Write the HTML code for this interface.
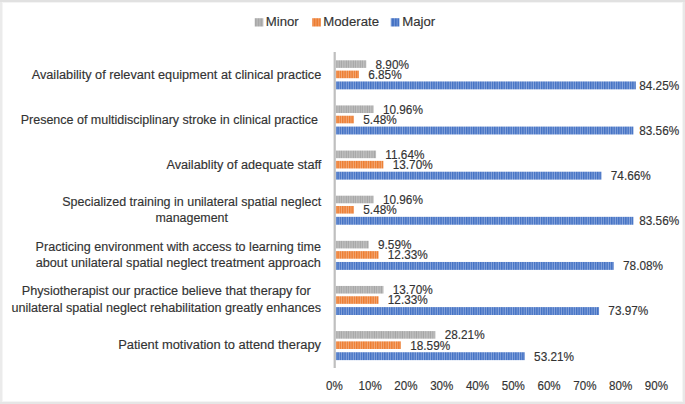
<!DOCTYPE html><html><head><meta charset="utf-8"><style>html,body{margin:0;padding:0;background:#fff;}svg{display:block;}text{font-family:"Liberation Sans",sans-serif;fill:#333333;stroke:#333333;stroke-width:0.15px;}</style></head><body>
<svg width="685" height="404" viewBox="0 0 685 404">
<defs>
<pattern id="pg" patternUnits="userSpaceOnUse" width="2.34" height="10" x="0.4"><rect width="2.34" height="10" fill="#bfbfbf"/><rect x="1.4" width="0.9" height="10" fill="#a3a3a3"/></pattern>
<pattern id="po" patternUnits="userSpaceOnUse" width="2.34" height="10" x="0.4"><rect width="2.34" height="10" fill="#ed7d31"/><rect x="1.4" width="0.9" height="10" fill="#f4ae80"/></pattern>
<pattern id="pb" patternUnits="userSpaceOnUse" width="2.34" height="10" x="0.4"><rect width="2.34" height="10" fill="#4472c4"/><rect x="1.4" width="0.9" height="10" fill="#8eaadf"/></pattern>
<pattern id="lg" patternUnits="userSpaceOnUse" width="2.8" height="10"><rect width="2.8" height="10" fill="#a8a8a8"/><rect x="2" width="0.8" height="10" fill="#c4c4c4"/></pattern>
<pattern id="lo" patternUnits="userSpaceOnUse" width="2.8" height="10"><rect width="2.8" height="10" fill="#ed7d31"/><rect x="2" width="0.8" height="10" fill="#f3a673"/></pattern>
<pattern id="lb" patternUnits="userSpaceOnUse" width="2.8" height="10"><rect width="2.8" height="10" fill="#4472c4"/><rect x="2" width="0.8" height="10" fill="#7f9fd9"/></pattern>
</defs>
<rect x="0" y="0" width="685" height="404" fill="#ffffff"/>
<rect x="2" y="2" width="681" height="1" fill="#f4f4f4"/>
<rect x="2" y="401" width="681" height="1" fill="#f5f5f5"/>
<rect x="2" y="2" width="1" height="400" fill="#f5f5f5"/>
<rect x="682" y="2" width="1" height="400" fill="#f5f5f5"/>
<rect x="0" y="0" width="2" height="404" fill="#ebebeb"/>
<rect x="683" y="0" width="2" height="404" fill="#e8e8e8"/>
<rect x="0" y="0" width="685" height="2" fill="#e1e1e1"/>
<rect x="0" y="402" width="685" height="2" fill="#e6e6e6"/>
<rect x="254.7" y="18.2" width="8.6" height="8.3" fill="url(#lg)"/>
<text x="265.80" y="25.8" font-size="13.2" transform="translate(0 25.8) scale(1 0.93) translate(0 -25.8)">Minor</text>
<rect x="312.2" y="18.2" width="8.6" height="8.3" fill="url(#lo)"/>
<text x="323.30" y="25.8" font-size="13.2" transform="translate(0 25.8) scale(1 0.93) translate(0 -25.8)">Moderate</text>
<rect x="390.8" y="18.2" width="8.6" height="8.3" fill="url(#lb)"/>
<text x="402.20" y="25.8" font-size="13.2" transform="translate(0 25.8) scale(1 0.93) translate(0 -25.8)">Major</text>
<rect x="335.80" y="60.30" width="30.44" height="7.6" fill="url(#pg)"/>
<text x="375.54" y="68.55" font-size="11.8" transform="translate(0 68.55) scale(1 1.08) translate(0 -68.55)">8.90%</text>
<rect x="335.80" y="70.60" width="23.11" height="7.6" fill="url(#po)"/>
<text x="368.21" y="78.85" font-size="11.8" transform="translate(0 78.85) scale(1 1.08) translate(0 -78.85)">6.85%</text>
<rect x="335.80" y="81.45" width="300.05" height="7.9" fill="url(#pb)"/>
<text x="639.20" y="89.85" font-size="11.8" transform="translate(0 89.85) scale(1 1.08) translate(0 -89.85)">84.25%</text>
<rect x="335.80" y="105.43" width="37.81" height="7.6" fill="url(#pg)"/>
<text x="382.91" y="113.68" font-size="11.8" transform="translate(0 113.68) scale(1 1.08) translate(0 -113.68)">10.96%</text>
<rect x="335.80" y="115.73" width="18.21" height="7.6" fill="url(#po)"/>
<text x="363.31" y="123.98" font-size="11.8" transform="translate(0 123.98) scale(1 1.08) translate(0 -123.98)">5.48%</text>
<rect x="335.80" y="126.58" width="297.58" height="7.9" fill="url(#pb)"/>
<text x="639.20" y="134.98" font-size="11.8" transform="translate(0 134.98) scale(1 1.08) translate(0 -134.98)">83.56%</text>
<rect x="335.80" y="150.56" width="40.25" height="7.6" fill="url(#pg)"/>
<text x="385.35" y="158.81" font-size="11.8" transform="translate(0 158.81) scale(1 1.08) translate(0 -158.81)">11.64%</text>
<rect x="335.80" y="160.86" width="47.62" height="7.6" fill="url(#po)"/>
<text x="392.72" y="169.11" font-size="11.8" transform="translate(0 169.11) scale(1 1.08) translate(0 -169.11)">13.70%</text>
<rect x="335.80" y="171.71" width="265.73" height="7.9" fill="url(#pb)"/>
<text x="610.83" y="180.11" font-size="11.8" transform="translate(0 180.11) scale(1 1.08) translate(0 -180.11)">74.66%</text>
<rect x="335.80" y="195.69" width="37.81" height="7.6" fill="url(#pg)"/>
<text x="382.91" y="203.94" font-size="11.8" transform="translate(0 203.94) scale(1 1.08) translate(0 -203.94)">10.96%</text>
<rect x="335.80" y="205.99" width="18.21" height="7.6" fill="url(#po)"/>
<text x="363.31" y="214.24" font-size="11.8" transform="translate(0 214.24) scale(1 1.08) translate(0 -214.24)">5.48%</text>
<rect x="335.80" y="216.84" width="297.58" height="7.9" fill="url(#pb)"/>
<text x="639.20" y="225.24" font-size="11.8" transform="translate(0 225.24) scale(1 1.08) translate(0 -225.24)">83.56%</text>
<rect x="335.80" y="240.82" width="32.91" height="7.6" fill="url(#pg)"/>
<text x="378.01" y="249.07" font-size="11.8" transform="translate(0 249.07) scale(1 1.08) translate(0 -249.07)">9.59%</text>
<rect x="335.80" y="251.12" width="42.72" height="7.6" fill="url(#po)"/>
<text x="387.82" y="259.37" font-size="11.8" transform="translate(0 259.37) scale(1 1.08) translate(0 -259.37)">12.33%</text>
<rect x="335.80" y="261.97" width="277.97" height="7.9" fill="url(#pb)"/>
<text x="623.07" y="270.37" font-size="11.8" transform="translate(0 270.37) scale(1 1.08) translate(0 -270.37)">78.08%</text>
<rect x="335.80" y="285.95" width="47.62" height="7.6" fill="url(#pg)"/>
<text x="392.72" y="294.20" font-size="11.8" transform="translate(0 294.20) scale(1 1.08) translate(0 -294.20)">13.70%</text>
<rect x="335.80" y="296.25" width="42.72" height="7.6" fill="url(#po)"/>
<text x="387.82" y="304.50" font-size="11.8" transform="translate(0 304.50) scale(1 1.08) translate(0 -304.50)">12.33%</text>
<rect x="335.80" y="307.10" width="263.26" height="7.9" fill="url(#pb)"/>
<text x="608.36" y="315.50" font-size="11.8" transform="translate(0 315.50) scale(1 1.08) translate(0 -315.50)">73.97%</text>
<rect x="335.80" y="331.08" width="99.54" height="7.6" fill="url(#pg)"/>
<text x="444.64" y="339.33" font-size="11.8" transform="translate(0 339.33) scale(1 1.08) translate(0 -339.33)">28.21%</text>
<rect x="335.80" y="341.38" width="65.12" height="7.6" fill="url(#po)"/>
<text x="410.22" y="349.63" font-size="11.8" transform="translate(0 349.63) scale(1 1.08) translate(0 -349.63)">18.59%</text>
<rect x="335.80" y="352.23" width="188.99" height="7.9" fill="url(#pb)"/>
<text x="534.09" y="360.63" font-size="11.8" transform="translate(0 360.63) scale(1 1.08) translate(0 -360.63)">53.21%</text>
<rect x="333.60" y="52" width="2.2" height="316" fill="#bfbfbf"/>
<text x="326.02" y="390" font-size="11.6" transform="translate(0 390) scale(1 1.08) translate(0 -390)">0%</text>
<text x="358.58" y="390" font-size="11.6" transform="translate(0 390) scale(1 1.08) translate(0 -390)">10%</text>
<text x="394.36" y="390" font-size="11.6" transform="translate(0 390) scale(1 1.08) translate(0 -390)">20%</text>
<text x="430.14" y="390" font-size="11.6" transform="translate(0 390) scale(1 1.08) translate(0 -390)">30%</text>
<text x="465.92" y="390" font-size="11.6" transform="translate(0 390) scale(1 1.08) translate(0 -390)">40%</text>
<text x="501.70" y="390" font-size="11.6" transform="translate(0 390) scale(1 1.08) translate(0 -390)">50%</text>
<text x="537.48" y="390" font-size="11.6" transform="translate(0 390) scale(1 1.08) translate(0 -390)">60%</text>
<text x="573.26" y="390" font-size="11.6" transform="translate(0 390) scale(1 1.08) translate(0 -390)">70%</text>
<text x="609.04" y="390" font-size="11.6" transform="translate(0 390) scale(1 1.08) translate(0 -390)">80%</text>
<text x="644.82" y="390" font-size="11.6" transform="translate(0 390) scale(1 1.08) translate(0 -390)">90%</text>
<text x="31.70" y="78.5" font-size="12.3" textLength="289.62" lengthAdjust="spacingAndGlyphs">Availability of relevant equipment at clinical practice</text>
<text x="20.70" y="123.7" font-size="12.3" textLength="297.27" lengthAdjust="spacingAndGlyphs">Presence of multidisciplinary stroke in clinical practice</text>
<text x="166.40" y="168.7" font-size="12.3" textLength="154.89" lengthAdjust="spacingAndGlyphs">Availablity of adequate staff</text>
<text x="62.30" y="205.8" font-size="12.3" textLength="258.81" lengthAdjust="spacingAndGlyphs">Specialized training in unilateral spatial neglect</text>
<text x="155.45" y="222.1" font-size="12.3" textLength="72.53" lengthAdjust="spacingAndGlyphs">management</text>
<text x="35.60" y="250.8" font-size="12.3" textLength="285.37" lengthAdjust="spacingAndGlyphs">Practicing environment with access to learning time</text>
<text x="35.70" y="267.2" font-size="12.3" textLength="285.19" lengthAdjust="spacingAndGlyphs">about unilateral spatial neglect treatment approach</text>
<text x="21.75" y="295.4" font-size="12.3" textLength="288.91" lengthAdjust="spacingAndGlyphs">Physiotherapist our practice believe that therapy for</text>
<text x="11.40" y="311.8" font-size="12.3" textLength="309.62" lengthAdjust="spacingAndGlyphs">unilateral spatial neglect rehabilitation greatly enhances</text>
<text x="118.20" y="349.4" font-size="12.3" textLength="202.83" lengthAdjust="spacingAndGlyphs">Patient motivation to attend therapy</text>
</svg></body></html>
